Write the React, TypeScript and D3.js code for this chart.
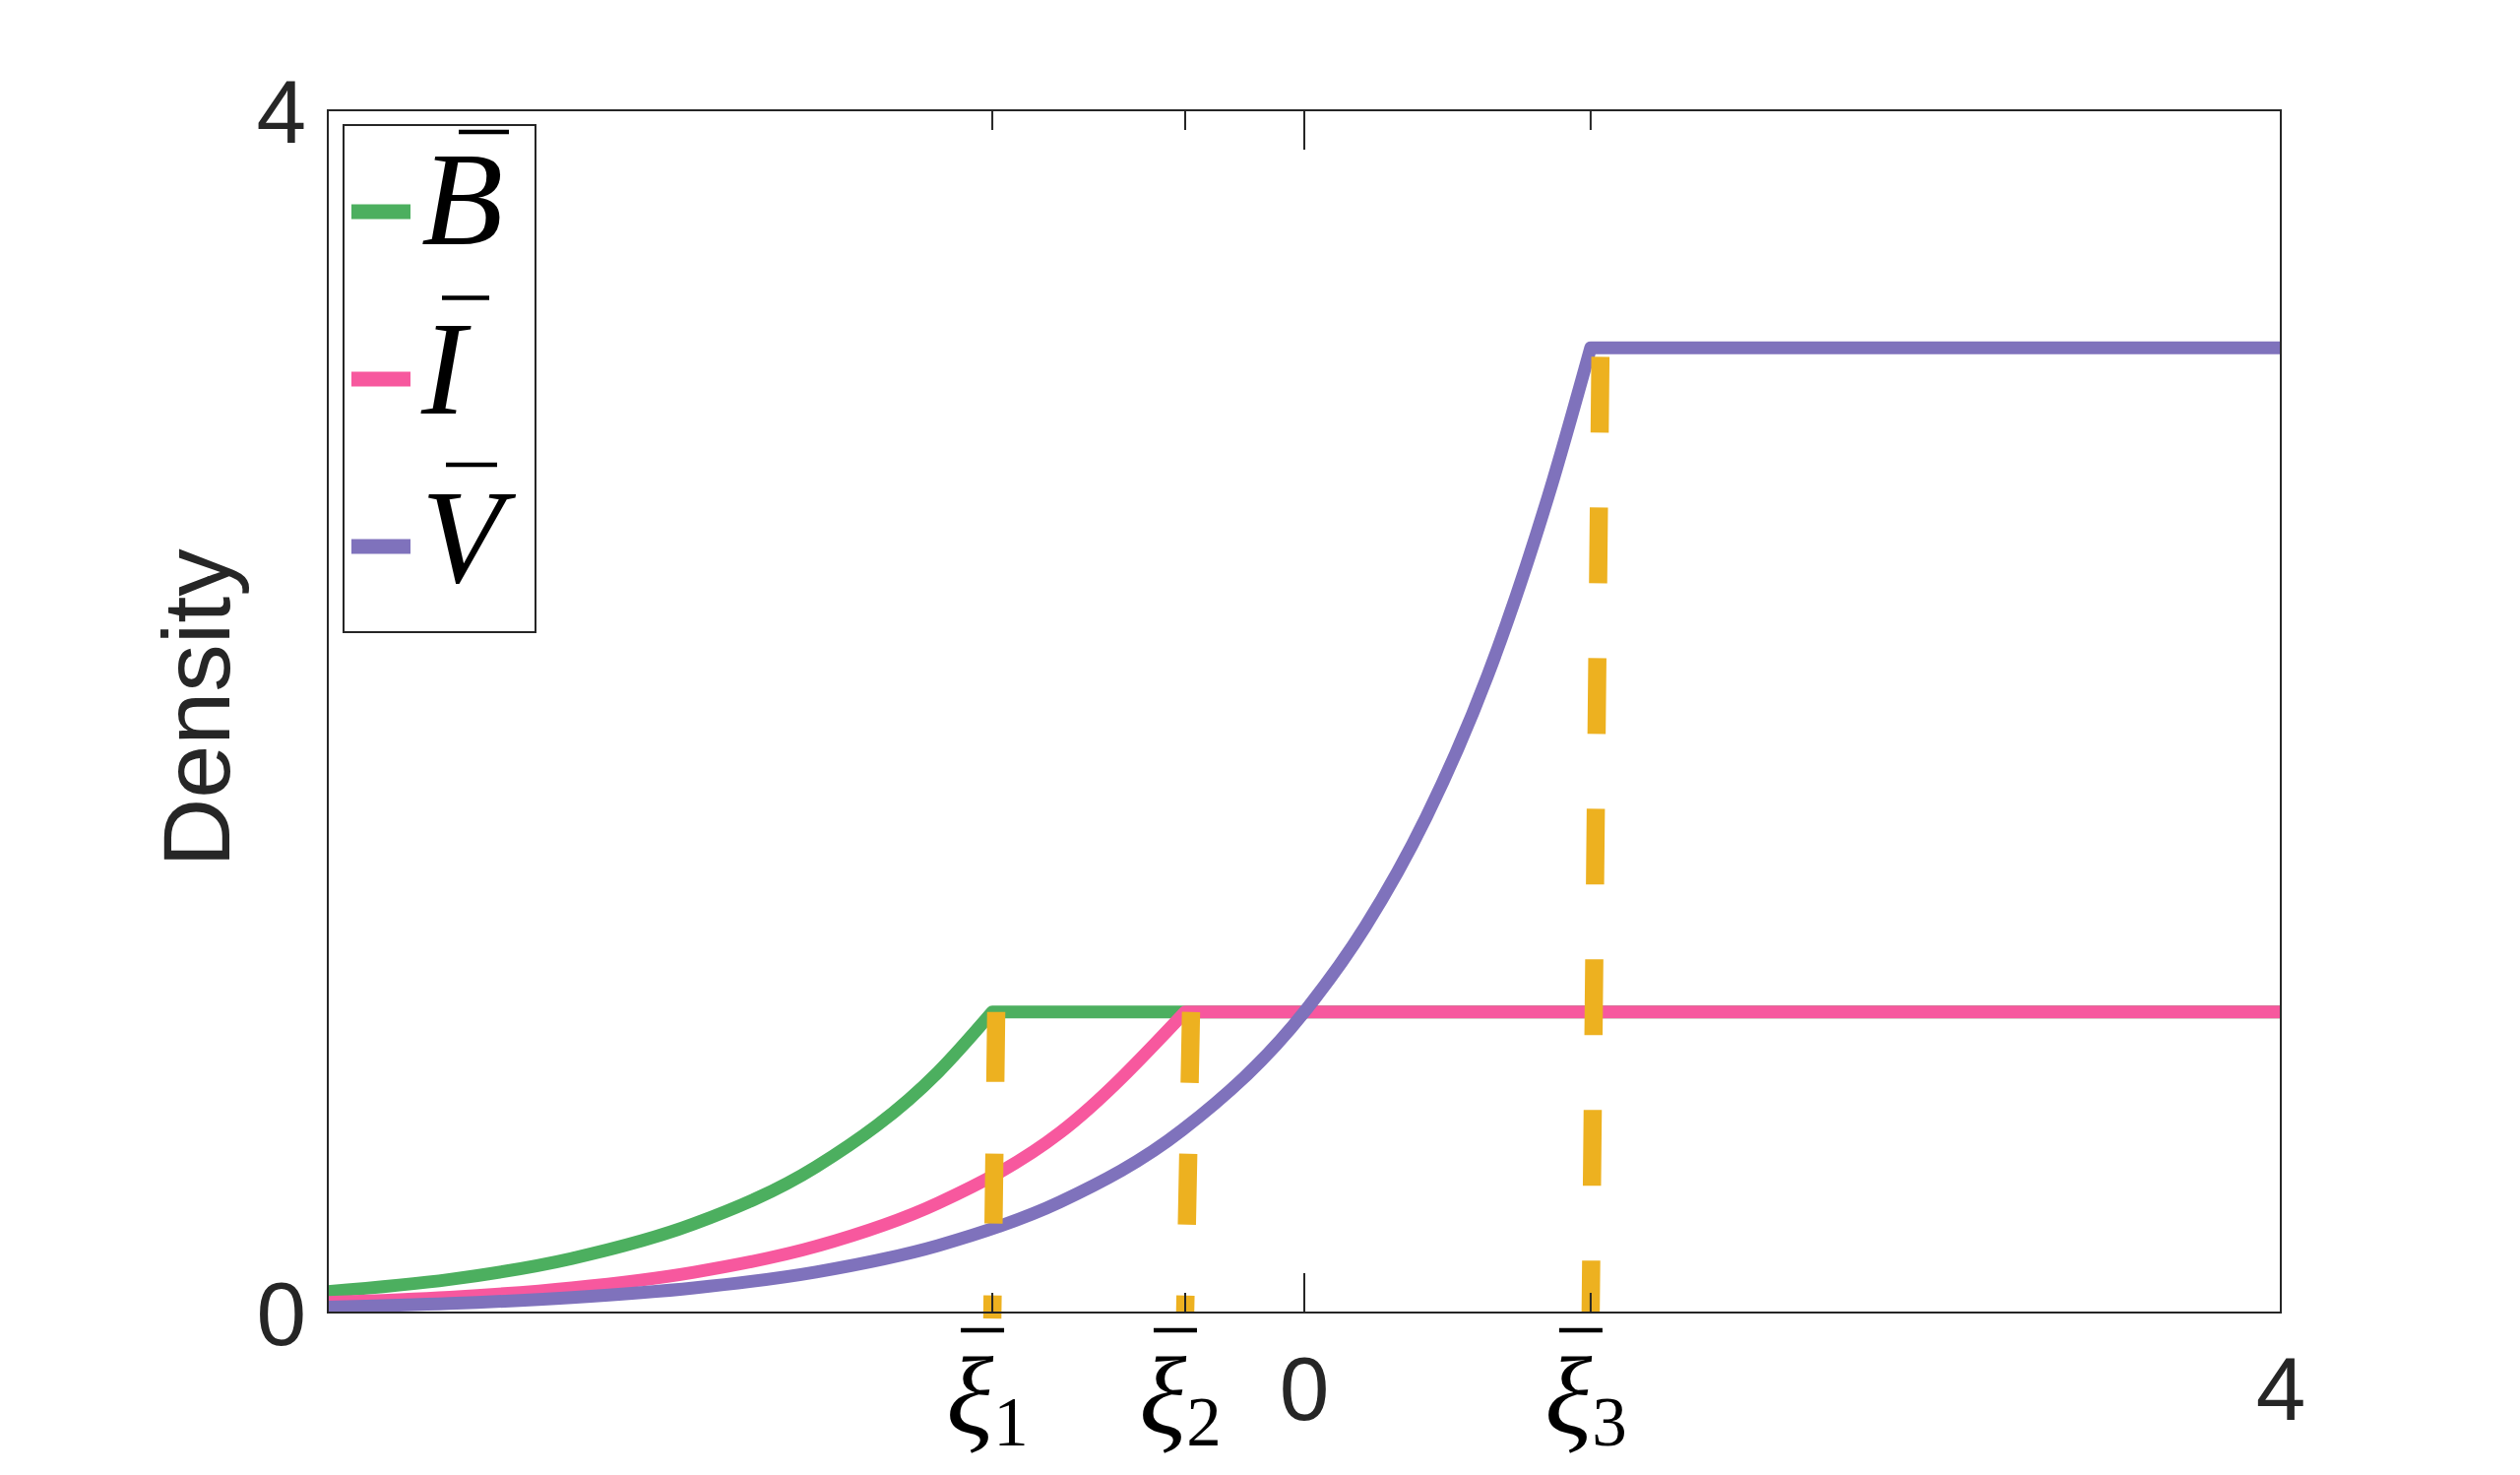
import React, { useMemo } from 'react';
import * as d3 from 'd3';

const WIDTH = 2560;
const HEIGHT = 1498;
const PLOT = { left: 333, right: 2317, top: 112, bottom: 1333 };

// x positions of the breakpoints
const xiNames = ['1', '2', '3'];
const xiValues = [-1.278, -0.488, 1.173];

// B-bar: rises until xi1, flat afterwards
const bX = [-4, -3.5, -3, -2.5, -2, -1.5, -1.278];
const bY = [0.07, 0.11, 0.18, 0.295, 0.485, 0.8, 1.0];
// I-bar: rises until xi2
const iX = [-4, -3.5, -3, -2.5, -2, -1.5, -1, -0.488];
const iY = [0.034, 0.051, 0.082, 0.134, 0.22, 0.364, 0.599, 1.0];
// V-bar: rises until xi3
const vX = [-4, -3.5, -3, -2.5, -2, -1.5, -1, -0.5, 0, 0.25, 0.5, 0.75, 1, 1.173];
const vY = [0.018, 0.03, 0.05, 0.082, 0.135, 0.223, 0.368, 0.607, 1.0, 1.284, 1.649, 2.117, 2.718, 3.21];

const plateaus = [1.0, 1.0, 3.21];
const seriesNames = ['B', 'I', 'V'];
const colors = ['#4CAF5F', '#F7589E', '#7F72BC'];

// dashed verticals at the breakpoints: top end (slightly off vertical) and bottom end
const dashTopX = [-1.262, -0.464, 1.213];
const dashTopY = [1.0, 1.0, 3.18];
const dashBottomY = [-0.02, 0, 0];
const dashPatterns = ['71 73', '72 72', '77 76'];

const yTicks = [0, 4];
const xPlainTicks = [0, 4];

const AXIS_COLOR = '#262626';
const SANS = '"Liberation Sans", Arial, Helvetica, sans-serif';
const SERIF = '"Liberation Serif", "Times New Roman", serif';

// overbar placement relative to each legend label start / baseline
const legendBar = [
  { x0: 38, x1: 89, dy: -114 },
  { x0: 21, x1: 69, dy: -117 },
  { x0: 25, x1: 77, dy: -119 },
];

export default function App() {
  const x = useMemo(() => d3.scaleLinear().domain([-4, 4]).range([PLOT.left, PLOT.right]), []);
  const y = useMemo(() => d3.scaleLinear().domain([0, 4]).range([PLOT.bottom, PLOT.top]), []);

  const paths = useMemo(() => {
    const line = d3
      .line<[number, number]>()
      .x(d => x(d[0]))
      .y(d => y(d[1]))
      .curve(d3.curveMonotoneX);
    const sets: [number[], number[]][] = [
      [bX, bY],
      [iX, iY],
      [vX, vY],
    ];
    return sets.map(([xs, ys], k) => {
      const pts = xs.map((v, i) => [v, ys[i]] as [number, number]);
      return `${line(pts)}L${x(4)},${y(plateaus[k])}`;
    });
  }, [x, y]);

  const allTicks = [...xiValues, 0];

  return (
    <svg
      width={WIDTH}
      height={HEIGHT}
      style={{ position: 'absolute', left: 0, top: 0, background: '#fff' }}
    >
      <rect x={0} y={0} width={WIDTH} height={HEIGHT} fill="#fff" />

      {/* curves, plotted in order B, I, V */}
      {paths.map((d, k) => (
        <path
          key={k}
          d={d}
          fill="none"
          stroke={colors[k]}
          strokeWidth={13}
          strokeLinejoin="round"
          strokeLinecap="butt"
        />
      ))}

      {/* dashed breakpoint lines */}
      {xiValues.map((v, i) => (
        <line
          key={i}
          x1={x(dashTopX[i])}
          y1={y(dashTopY[i])}
          x2={x(v)}
          y2={y(dashBottomY[i])}
          stroke="#EDB120"
          strokeWidth={18.5}
          strokeDasharray={dashPatterns[i]}
        />
      ))}

      {/* axes box */}
      <rect
        x={PLOT.left}
        y={PLOT.top}
        width={PLOT.right - PLOT.left}
        height={PLOT.bottom - PLOT.top}
        fill="none"
        stroke={AXIS_COLOR}
        strokeWidth={2}
      />
      {allTicks.map((v, i) => {
        const len = v === 0 ? 40 : 20;
        return (
          <g key={i} stroke={AXIS_COLOR} strokeWidth={2}>
            <line x1={x(v)} x2={x(v)} y1={PLOT.top} y2={PLOT.top + len} />
            <line x1={x(v)} x2={x(v)} y1={PLOT.bottom} y2={PLOT.bottom - len} />
          </g>
        );
      })}

      {/* y tick labels */}
      {yTicks.map(t => (
        <text
          key={t}
          x={311}
          y={y(t) + 33}
          textAnchor="end"
          fontFamily={SANS}
          fontSize={91}
          fill={AXIS_COLOR}
        >
          {t}
        </text>
      ))}

      {/* x tick labels: plain numbers */}
      {xPlainTicks.map(t => (
        <text
          key={t}
          x={x(t)}
          y={1442}
          textAnchor="middle"
          fontFamily={SANS}
          fontSize={91}
          fill={AXIS_COLOR}
        >
          {t}
        </text>
      ))}

      {/* x tick labels: xi-bar with subscripts */}
      {xiValues.map((v, i) => (
        <g key={i}>
          <line
            x1={x(v) - 32}
            x2={x(v) + 12}
            y1={1351}
            y2={1351}
            stroke="#000"
            strokeWidth={4.5}
          />
          <text x={x(v) - 5} y={1456} textAnchor="middle" fontFamily={SERIF} fill="#000">
            <tspan fontStyle="italic" fontSize={112}>
              ξ
            </tspan>
            <tspan fontSize={71} dy={12}>
              {xiNames[i]}
            </tspan>
          </text>
        </g>
      ))}

      {/* y axis label */}
      <text
        transform="translate(233,719) rotate(-90)"
        textAnchor="middle"
        fontFamily={SANS}
        fontSize={97}
        fill={AXIS_COLOR}
      >
        Density
      </text>

      {/* legend */}
      <rect x={349} y={127} width={195} height={515} fill="#fff" stroke={AXIS_COLOR} strokeWidth={2} />
      {seriesNames.map((name, i) => {
        const cy = 215 + i * 170;
        const baseline = 248 + i * 171.5;
        return (
          <g key={name}>
            <line x1={357} x2={417} y1={cy} y2={cy} stroke={colors[i]} strokeWidth={15} />
            <text x={428} y={baseline} fontFamily={SERIF} fontStyle="italic" fontSize={136} fill="#000">
              {name}
            </text>
            <line
              x1={428 + legendBar[i].x0}
              x2={428 + legendBar[i].x1}
              y1={baseline + legendBar[i].dy}
              y2={baseline + legendBar[i].dy}
              stroke="#000"
              strokeWidth={4.5}
            />
          </g>
        );
      })}
    </svg>
  );
}
